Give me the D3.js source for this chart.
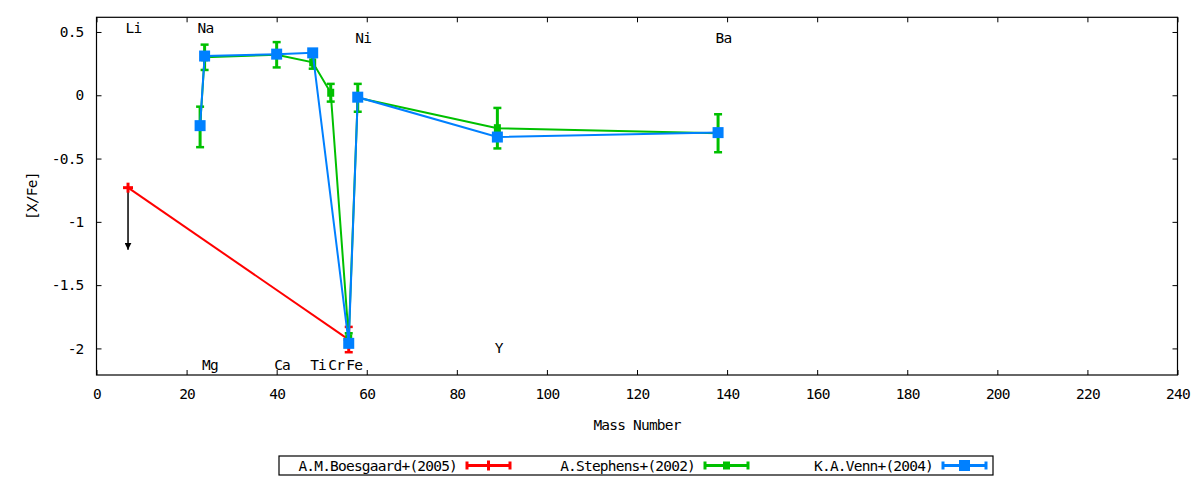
<!DOCTYPE html>
<html><head><meta charset="utf-8">
<script src="https://cdn.jsdelivr.net/npm/d3@7"></script>
<style>
body{margin:0;background:#fff;}
text{font-family:"DejaVu Sans Mono",monospace;font-size:14.5px;letter-spacing:-0.8px;fill:#000;}
</style></head>
<body><svg id="c" width="1200" height="480"></svg>
<script>
// ---- data ----
const xTicks = [0,20,40,60,80,100,120,140,160,180,200,220,240];
const yTicks = [0.5,0,-0.5,-1,-1.5,-2];
const seriesNames = ["A.M.Boesgaard+(2005)","A.Stephens+(2002)","K.A.Venn+(2004)"];
const seriesColors = ["#ff0000","#00c000","#0080ff"];

const boesgaardMass = [7, 56];
const boesgaardVal  = [-0.73, -1.93];
const boesgaardErr  = [0, 0.10];

const stephensMass = [23, 24, 40, 48, 52, 56, 58, 89, 138];
const stephensVal  = [-0.25, 0.30, 0.32, 0.26, 0.02, -1.92, -0.02, -0.26, -0.30];
const stephensErr  = [0.16, 0.10, 0.10, 0.05, 0.07, 0.04, 0.11, 0.16, 0.15];

const vennMass = [23, 24, 40, 48, 56, 58, 89, 138];
const vennVal  = [-0.24, 0.31, 0.325, 0.335, -1.96, -0.015, -0.33, -0.295];

const labelNames = ["Li","Na","Ni","Ba","Mg","Ca","Ti","Cr","Fe","Y"];
const labelMass  = [7, 23, 58, 138, 24, 40, 48, 52, 56, 89];
const labelY     = [0.535, 0.535, 0.456, 0.456, -2.13, -2.13, -2.13, -2.13, -2.13, -2.0];

const liLimitFrom = -0.73, liLimitTo = -1.22, liMass = 7;

// ---- layout ----
const svg = d3.select("#c");
const L = 96.5, R = 1177.5, T = 17.3, B = 375;
const x = d3.scaleLinear().domain([0,240]).range([L,R]);
const y = d3.scaleLinear().domain([-2.21,0.616]).range([B,T]);

// axes
const gx = svg.append("g").attr("transform",`translate(0,${B})`)
  .call(d3.axisBottom(x).tickValues(xTicks).tickSize(-5).tickPadding(14).tickFormat(d3.format("d")));
const gxt = svg.append("g").attr("transform",`translate(0,${T})`)
  .call(d3.axisTop(x).tickValues(xTicks).tickSize(-5).tickFormat(""));
const gy = svg.append("g").attr("transform",`translate(${L},0)`)
  .call(d3.axisLeft(y).tickValues(yTicks).tickSize(-5).tickPadding(13).tickFormat(d=>String(d)));
const gyr = svg.append("g").attr("transform",`translate(${R},0)`)
  .call(d3.axisRight(y).tickValues(yTicks).tickSize(-5).tickFormat(""));
[gx,gxt,gy,gyr].forEach(g=>{
  g.select(".domain").remove();
  g.selectAll("line").attr("stroke","#000").attr("stroke-width",1);
  g.selectAll("text").attr("font-family",null).attr("font-size",null).style("font-family","DejaVu Sans Mono").style("font-size","14.5px").attr("fill","#000");
});
svg.append("rect").attr("x",L).attr("y",T).attr("width",R-L).attr("height",B-T)
  .attr("fill","none").attr("stroke","#000").attr("stroke-width",1.2);

// axis titles
svg.append("text").attr("x",(L+R)/2).attr("y",425).attr("text-anchor","middle")
  .attr("dominant-baseline","central").text("Mass Number");
svg.append("text").attr("transform",`translate(32,${(T+B)/2}) rotate(-90)`)
  .attr("text-anchor","middle").attr("dominant-baseline","central").text("[X/Fe]");

// element labels
svg.append("g").selectAll("text").data(labelNames).join("text")
  .attr("x",(d,i)=>x(labelMass[i])-2.5).attr("y",(d,i)=>y(labelY[i]))
  .attr("dominant-baseline","central").text(d=>d);

// upper limit arrow for Li
svg.append("defs").append("marker").attr("id","ah").attr("viewBox","0 0 10 10")
  .attr("refX",10).attr("refY",5).attr("markerWidth",7).attr("markerHeight",7)
  .attr("markerUnits","userSpaceOnUse").attr("orient","auto")
  .append("path").attr("d","M0,0 L10,5 L0,10 z").attr("fill","#000");
svg.append("line").attr("x1",x(liMass)).attr("x2",x(liMass))
  .attr("y1",y(liLimitFrom)).attr("y2",y(liLimitTo))
  .attr("stroke","#000").attr("stroke-width",1.5).attr("marker-end","url(#ah)");

const line = d3.line().x(d=>x(d[0])).y(d=>y(d[1]));

function drawSeries(mass, val, err, color, marker, capW){
  const g = svg.append("g");
  const pts = mass.map((m,i)=>[m,val[i],err?err[i]:0]);
  g.append("path").attr("d",line(pts)).attr("fill","none").attr("stroke",color).attr("stroke-width",2);
  pts.forEach(p=>{
    if(p[2]>0){
      const cx=x(p[0]), y1=y(p[1]+p[2]), y2=y(p[1]-p[2]);
      g.append("line").attr("x1",cx).attr("x2",cx).attr("y1",y1).attr("y2",y2).attr("stroke",color).attr("stroke-width",3);
      [y1,y2].forEach(yy=>g.append("line").attr("x1",cx-capW/2).attr("x2",cx+capW/2).attr("y1",yy).attr("y2",yy).attr("stroke",color).attr("stroke-width",2.5));
    }
    marker(g, x(p[0]), y(p[1]), color);
  });
}
const plusMarker = (g,cx,cy,c)=>{
  g.append("line").attr("x1",cx-5).attr("x2",cx+5).attr("y1",cy).attr("y2",cy).attr("stroke",c).attr("stroke-width",3);
  g.append("line").attr("x1",cx).attr("x2",cx).attr("y1",cy-5).attr("y2",cy+5).attr("stroke",c).attr("stroke-width",3);
};
const smallSq = (g,cx,cy,c)=>g.append("rect").attr("x",cx-3.5).attr("y",cy-4).attr("width",7).attr("height",8).attr("fill",c);
const bigSq = (g,cx,cy,c)=>g.append("rect").attr("x",cx-5.5).attr("y",cy-5.5).attr("width",11).attr("height",11).attr("fill",c);
const markers=[plusMarker,smallSq,bigSq];

drawSeries(boesgaardMass,boesgaardVal,boesgaardErr,seriesColors[0],plusMarker,8);
drawSeries(stephensMass,stephensVal,stephensErr,seriesColors[1],smallSq,8);
drawSeries(vennMass,vennVal,null,seriesColors[2],bigSq,8);

// legend
const LX=279, LY=456, LW=714, LH=19, entryW=238;
svg.append("rect").attr("x",LX).attr("y",LY).attr("width",LW).attr("height",LH)
  .attr("fill","none").attr("stroke","#000").attr("stroke-width",1.2);
seriesNames.forEach((n,i)=>{
  const ox = LX + i*entryW, cy = LY+LH/2;
  svg.append("text").attr("x",ox+178).attr("y",cy).attr("text-anchor","end")
    .attr("dominant-baseline","central").text(n);
  const x1=ox+188, x2=ox+231, c=seriesColors[i];
  svg.append("line").attr("x1",x1).attr("x2",x2).attr("y1",cy).attr("y2",cy).attr("stroke",c).attr("stroke-width",3);
  [x1,x2].forEach(xx=>svg.append("line").attr("x1",xx).attr("x2",xx).attr("y1",cy-4).attr("y2",cy+4).attr("stroke",c).attr("stroke-width",3));
  markers[i](svg,(x1+x2)/2,cy,c);
});
</script></body></html>
